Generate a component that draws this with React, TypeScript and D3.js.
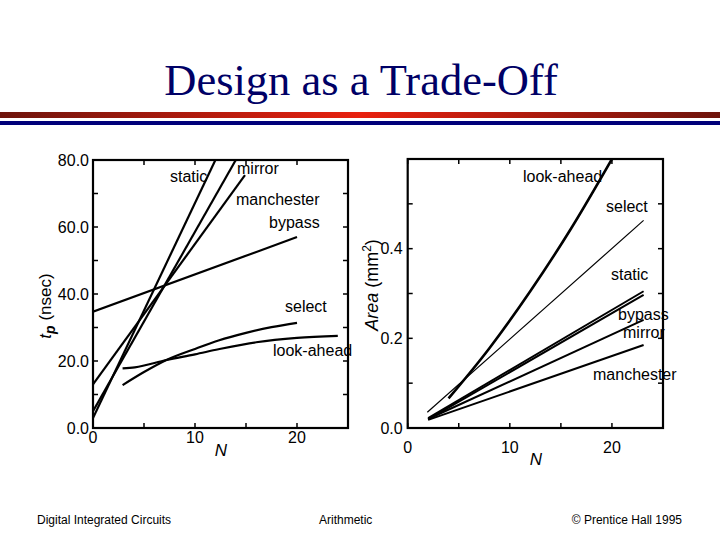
import * as d3 from "d3";

type Pt = [number, number];

// left panel: t_p (nsec) against N
const delayStatic: Pt[] = [[0, 3], [12, 80]];
const delayMirror: Pt[] = [[0, 5], [14, 80]];
const delayManchester: Pt[] = [[0, 13], [14.9, 75.5]];
const delayBypass: Pt[] = [[0, 34.7], [20, 57]];
const delaySelect: Pt[] = [
  [2.9, 12.8], [5, 16.7], [7.2, 20.3], [10, 23.6], [12.3, 26.1],
  [15, 28.4], [17.5, 30.1], [20, 31.4],
];
const delayLookAhead: Pt[] = [
  [2.9, 17.8], [4.1, 18.1], [7.2, 20.3], [10, 22], [12.3, 23.5],
  [16, 25.6], [20, 26.9], [24, 27.5],
];

// right panel: Area (mm^2) against N
const areaLookAhead: Pt[] = [
  [4, 0.066], [8, 0.178], [12, 0.305], [16, 0.445], [20, 0.6],
];
const areaSelect: Pt[] = [[1.92, 0.035], [23.1, 0.463]];
const areaStatic: Pt[] = [[2, 0.022], [23.1, 0.305]];
const areaBypass: Pt[] = [[2, 0.019], [23.1, 0.297]];
const areaMirror: Pt[] = [[2, 0.02], [23.1, 0.241]];
const areaManchester: Pt[] = [[2, 0.018], [23.1, 0.185]];

const leftXTicks = [0, 5, 10, 15, 20, 25];
const leftXLabels = [0, 10, 20];
const leftYTicks = [0, 10, 20, 30, 40, 50, 60, 70, 80];
const leftYLabels = [0, 20, 40, 60, 80];

const rightXTicks = [0, 5, 10, 15, 20, 25];
const rightXLabels = [0, 10, 20];
const rightYTicks = [0, 0.1, 0.2, 0.3, 0.4, 0.5, 0.6];
const rightYLabels = [0, 0.2, 0.4];

const SANS = "'Liberation Sans', Arial, Helvetica, sans-serif";
const SERIF = "'Liberation Serif', 'Times New Roman', serif";

const xL = d3.scaleLinear().domain([0, 25]).range([93, 348]);
const yL = d3.scaleLinear().domain([0, 80]).range([428, 160]);
const xR = d3.scaleLinear().domain([0, 25]).range([407.7, 663]);
const yR = d3.scaleLinear().domain([0, 0.6]).range([428, 159]);

function Frame({ x, y, xTicks, yTicks, id }: any) {
  const [x0, x1] = x.range();
  const [yb, yt] = y.range();
  const t = 5;
  return (
    <g stroke="#000" strokeWidth={1.5}>
      <clipPath id={id}>
        <rect x={x0} y={yt} width={x1 - x0} height={yb - yt} />
      </clipPath>
      {xTicks.map((v: number) => (
        <g key={"x" + v}>
          <line x1={x(v)} x2={x(v)} y1={yb} y2={yb - t} />
          <line x1={x(v)} x2={x(v)} y1={yt} y2={yt + t} />
        </g>
      ))}
      {yTicks.map((v: number) => (
        <g key={"y" + v}>
          <line x1={x0} x2={x0 + t} y1={y(v)} y2={y(v)} />
          <line x1={x1} x2={x1 - t} y1={y(v)} y2={y(v)} />
        </g>
      ))}
      <rect x={x0} y={yt} width={x1 - x0} height={yb - yt} fill="none" strokeWidth={2.2} />
    </g>
  );
}

function Series({ data, x, y, clip, width = 2.2, curved = false }: any) {
  const line = d3
    .line<Pt>()
    .x((d) => x(d[0]))
    .y((d) => y(d[1]))
    .curve(curved ? d3.curveMonotoneX : d3.curveLinear);
  return (
    <path d={line(data) ?? ""} fill="none" stroke="#000" strokeWidth={width}
      strokeLinejoin="round" clipPath={`url(#${clip})`} />
  );
}

const leftNotes = [
  { text: "static", x: 170, y: 182 },
  { text: "mirror", x: 237, y: 174 },
  { text: "manchester", x: 236, y: 205 },
  { text: "bypass", x: 269, y: 228 },
  { text: "select", x: 285, y: 312 },
  { text: "look-ahead", x: 273, y: 356 },
];
const rightNotes = [
  { text: "look-ahead", x: 523, y: 182 },
  { text: "select", x: 606, y: 212 },
  { text: "static", x: 611, y: 280 },
  { text: "bypass", x: 618, y: 320 },
  { text: "mirror", x: 623, y: 338 },
  { text: "manchester", x: 593, y: 380 },
];

export default function App() {
  return (
    <div style={{ position: "absolute", left: 0, top: 0 }}>
      <svg width={720} height={540} style={{ display: "block", background: "#fff" }}>
        <defs>
          <linearGradient id="redbar" x1="0" x2="1" y1="0" y2="0">
            <stop offset="0" stopColor="#6e140c" />
            <stop offset="0.5" stopColor="#e8210f" />
            <stop offset="1" stopColor="#6e140c" />
          </linearGradient>
        </defs>

        <text x={361} y={95} textAnchor="middle" fontFamily={SERIF} fontSize={44.5} fill="#000066">
          Design as a Trade-Off
        </text>
        <rect x={0} y={112} width={720} height={6} fill="url(#redbar)" />
        <rect x={0} y={121} width={720} height={4} fill="#00007a" />

        {/* left panel */}
        <Frame x={xL} y={yL} xTicks={leftXTicks} yTicks={leftYTicks} id="clipL" />
        <g>
          <Series data={delayStatic} x={xL} y={yL} clip="clipL" />
          <Series data={delayMirror} x={xL} y={yL} clip="clipL" />
          <Series data={delayManchester} x={xL} y={yL} clip="clipL" />
          <Series data={delayBypass} x={xL} y={yL} clip="clipL" />
          <Series data={delaySelect} x={xL} y={yL} clip="clipL" curved />
          <Series data={delayLookAhead} x={xL} y={yL} clip="clipL" curved />
        </g>
        <g fontFamily={SANS} fontSize={16} fill="#000">
          {leftXLabels.map((v) => (
            <text key={v} x={xL(v)} y={yL(0) + 15} textAnchor="middle">{v}</text>
          ))}
          {leftYLabels.map((v) => (
            <text key={v} x={xL(0) - 4} y={yL(v)} dy="0.36em" textAnchor="end">{v.toFixed(1)}</text>
          ))}
          {leftNotes.map((n) => (
            <text key={n.text} x={n.x} y={n.y}>{n.text}</text>
          ))}
          <text x={221} y={456} textAnchor="middle" fontStyle="italic" fontSize={17}>N</text>
          <text transform="translate(51,306) rotate(-90)" textAnchor="middle" fontSize={17}>
            <tspan fontStyle="italic">t</tspan>
            <tspan fontStyle="italic" fontWeight="bold" fontSize={14} dy={4}>p</tspan>
            <tspan dy={-4}> (nsec)</tspan>
          </text>
        </g>

        {/* right panel */}
        <Frame x={xR} y={yR} xTicks={rightXTicks} yTicks={rightYTicks} id="clipR" />
        <g>
          <Series data={areaLookAhead} x={xR} y={yR} clip="clipR" width={2.6} curved />
          <Series data={areaSelect} x={xR} y={yR} clip="clipR" width={1.2} />
          <Series data={areaStatic} x={xR} y={yR} clip="clipR" width={2} />
          <Series data={areaBypass} x={xR} y={yR} clip="clipR" width={2} />
          <Series data={areaMirror} x={xR} y={yR} clip="clipR" width={2} />
          <Series data={areaManchester} x={xR} y={yR} clip="clipR" width={2} />
        </g>
        <g fontFamily={SANS} fontSize={16} fill="#000">
          {rightXLabels.map((v) => (
            <text key={v} x={xR(v)} y={yR(0) + 25} textAnchor="middle">{v}</text>
          ))}
          {rightYLabels.map((v) => (
            <text key={v} x={xR(0) - 5} y={yR(v)} dy="0.36em" textAnchor="end">{v.toFixed(1)}</text>
          ))}
          {rightNotes.map((n) => (
            <text key={n.text} x={n.x} y={n.y}>{n.text}</text>
          ))}
          <text x={536} y={465} textAnchor="middle" fontStyle="italic" fontSize={17}>N</text>
          <text transform="translate(378,285) rotate(-90)" textAnchor="middle" fontSize={18}>
            <tspan fontStyle="italic">Area</tspan>
            <tspan> (mm</tspan>
            <tspan fontSize={12} dy={-7}>2</tspan>
            <tspan dy={7}>)</tspan>
          </text>
        </g>

        {/* footer */}
        <g fontFamily={SANS} fontSize={12} fill="#000">
          <text x={37} y={524}>Digital Integrated Circuits</text>
          <text x={319} y={524}>Arithmetic</text>
          <text x={682} y={524} textAnchor="end">© Prentice Hall 1995</text>
        </g>
      </svg>
    </div>
  );
}
